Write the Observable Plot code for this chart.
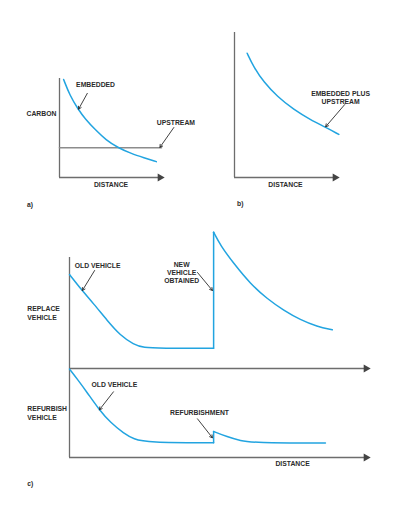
<!DOCTYPE html>
<html>
<head>
<meta charset="utf-8">
<script src="https://cdn.jsdelivr.net/npm/d3@7"></script>
<script src="https://cdn.jsdelivr.net/npm/@observablehq/plot@0.6"></script>
<style>
  html, body { margin: 0; padding: 0; background: #fff; }
  #page { position: relative; width: 395px; height: 517px; background: #fff; overflow: hidden; }
  #page svg { background: transparent !important; overflow: visible; }
</style>
</head>
<body>
<div id="page"></div>
<script>
// ---------- DATA ----------
// Panel a)
const aDistance = [0.4, 1, 1.8, 2.5, 3.5, 4.5, 5.7, 7, 8.2, 9.4];
const aEmbedded = [9.9, 8.3, 6.9, 5.9, 4.8, 3.8, 3.0, 2.4, 2.0, 1.6];
const aUpstreamLevel = 3.0;
const aUpstreamExtent = [0, 9.9];

// Panel b)
const bDistance = [1.23, 1.87, 2.85, 4.14, 5.76, 7.38, 8.83, 10.13];
const bEmbeddedPlusUpstream = [8.57, 7.61, 6.57, 5.59, 4.67, 3.98, 3.47, 2.97];

// Panel c) replace vehicle
const cReplaceOldDistance = [0, 0.42, 0.81, 1.26, 1.70, 2.15, 2.48, 3.03, 4.82];
const cReplaceOldCarbon   = [9.4, 7.8, 6.47, 4.8, 3.3, 2.4, 2.07, 2.03, 2.03];
const cReplaceNewDistance = [4.82, 5.05, 5.50, 6.05, 6.61, 7.17, 7.72, 8.28, 8.79];
const cReplaceNewCarbon   = [13.63, 12.3, 10.47, 8.47, 6.97, 5.8, 4.87, 4.2, 3.87];

// Panel c) refurbish vehicle
const cRefurbOldDistance = [0, 0.26, 0.59, 1.0, 1.37, 1.82, 2.15, 2.6, 4.82];
const cRefurbOldCarbon   = [8.84, 7.84, 6.5, 4.74, 3.5, 2.4, 1.84, 1.5, 1.47];
const cRefurbNewDistance = [4.82, 5.27, 5.72, 6.17, 8.56];
const cRefurbNewCarbon   = [2.6, 2.07, 1.67, 1.47, 1.44];

// ---------- STYLE ----------
const BLUE = "#22a4e0";
const AXIS = "#6d6d6d";
const GREY = "#8c8c8c";
const INK = "#2b2b2b";
const FONT = { fontFamily: "Liberation Sans, Arial, sans-serif", fontWeight: "bold", fill: INK };
const CURVE = "basis";

const zip = (xs, ys) => xs.map((x, i) => ({ x, y: ys[i] }));
const page = document.getElementById("page");
function place(el, left, top) {
  const d = document.createElement("div");
  d.style.position = "absolute";
  d.style.left = left + "px";
  d.style.top = top + "px";
  d.appendChild(el);
  page.appendChild(d);
}
const baseStyle = { background: "transparent", fontFamily: "Liberation Sans, Arial, sans-serif", fontSize: "6.8px", overflow: "visible" };
const arrowOpts = { x1: "x1", y1: "y1", x2: "x2", y2: "y2", stroke: INK, strokeWidth: 0.9, headLength: 5, bend: 0 };
const xArrowHead = (xEnd) => Plot.dot([{ x: xEnd, y: 0 }], { x: "x", y: "y", symbol: "triangle", rotate: 90, r: 3, fill: "#444", stroke: "none", dx: -2.5 });

function panelText(data) {
  return [
    Plot.text(data.filter(d => d.a === "middle"), { x: "x", y: "y", text: "t", textAnchor: "middle", lineHeight: 1.2, ...FONT }),
    Plot.text(data.filter(d => d.a === "start"), { x: "x", y: "y", text: "t", textAnchor: "start", lineHeight: 1.25, ...FONT })
  ];
}

// ---------- PANEL a ----------
const plotA = Plot.plot({
  width: 200, height: 160,
  marginLeft: 59, marginRight: 38, marginTop: 18, marginBottom: 43,
  x: { domain: [0, 10], axis: null },
  y: { domain: [0, 10], axis: null },
  style: baseStyle,
  marks: [
    Plot.ruleX([0], { stroke: AXIS, strokeWidth: 1.3 }),
    Plot.ruleY([0], { stroke: AXIS, strokeWidth: 1.3 }),
    xArrowHead(10),
    Plot.line(aUpstreamExtent.map(x => ({ x, y: aUpstreamLevel })), { x: "x", y: "y", stroke: GREY, strokeWidth: 1.6 }),
    Plot.line(zip(aDistance, aEmbedded), { x: "x", y: "y", stroke: BLUE, strokeWidth: 1.5, curve: CURVE }),
    Plot.arrow([{ x1: 2.7, y1: 8.5, x2: 1.85, y2: 6.9 }, { x1: 11.1, y1: 5.05, x2: 9.75, y2: 3.05 }], arrowOpts),
    ...panelText([
      { x: 3.5, y: 9.4, t: "EMBEDDED", a: "middle" },
      { x: 11.3, y: 5.6, t: "UPSTREAM", a: "middle" },
      { x: -1.75, y: 6.5, t: "CARBON", a: "middle" },
      { x: 5.0, y: -0.7, t: "DISTANCE", a: "middle" },
      { x: -3.15, y: -2.7, t: "a)", a: "start" }
    ])
  ]
});
place(plotA, 0, 60);

// ---------- PANEL b ----------
const plotB = Plot.plot({
  width: 195, height: 200,
  marginLeft: 34, marginRight: 58, marginTop: 12, marginBottom: 43,
  x: { domain: [0, 10], axis: null },
  y: { domain: [0, 10], axis: null },
  style: baseStyle,
  marks: [
    Plot.ruleX([0], { stroke: AXIS, strokeWidth: 1.3 }),
    Plot.ruleY([0], { stroke: AXIS, strokeWidth: 1.3 }),
    xArrowHead(10),
    Plot.line(zip(bDistance, bEmbeddedPlusUpstream), { x: "x", y: "y", stroke: BLUE, strokeWidth: 1.5, curve: CURVE }),
    Plot.arrow([{ x1: 10.7, y1: 5.03, x2: 8.85, y2: 3.5 }], arrowOpts),
    ...panelText([
      { x: 10.3, y: 5.52, t: "EMBEDDED PLUS\nUPSTREAM", a: "middle" },
      { x: 4.95, y: -0.48, t: "DISTANCE", a: "middle" },
      { x: 0.25, y: -1.8, t: "b)", a: "start" }
    ])
  ]
});
place(plotB, 200, 20);

// ---------- PANEL c (replace vehicle) ----------
const replaceOld = zip(cReplaceOldDistance, cReplaceOldCarbon);
const replaceNew = zip(cReplaceNewDistance, cReplaceNewCarbon);
const plotC1 = Plot.plot({
  width: 395, height: 148,
  marginLeft: 69, marginRight: 27, marginTop: 32, marginBottom: 5,
  x: { domain: [0, 10], axis: null },
  y: { domain: [0, 11.1], axis: null },
  style: baseStyle,
  marks: [
    Plot.ruleX([0], { stroke: AXIS, strokeWidth: 1.3 }),
    Plot.ruleY([0], { stroke: AXIS, strokeWidth: 1.3 }),
    xArrowHead(10),
    Plot.line(replaceOld, { x: "x", y: "y", stroke: BLUE, strokeWidth: 1.5, curve: CURVE }),
    Plot.line([replaceOld[replaceOld.length - 1], replaceNew[0]], { x: "x", y: "y", stroke: BLUE, strokeWidth: 1.5 }),
    Plot.line(replaceNew, { x: "x", y: "y", stroke: BLUE, strokeWidth: 1.5, curve: CURVE }),
    Plot.arrow([{ x1: 0.84, y1: 9.8, x2: 0.43, y2: 7.8 }, { x1: 4.28, y1: 9.6, x2: 4.78, y2: 7.8 }], arrowOpts),
    ...panelText([
      { x: 0.94, y: 10.3, t: "OLD VEHICLE", a: "middle" },
      { x: 3.75, y: 9.6, t: "NEW\nVEHICLE\nOBTAINED", a: "middle" },
      { x: -1.41, y: 5.55, t: "REPLACE\nVEHICLE", a: "start" }
    ])
  ]
});
place(plotC1, 0, 225);

// ---------- PANEL c (refurbish vehicle) ----------
const refurbOld = zip(cRefurbOldDistance, cRefurbOldCarbon);
const refurbNew = zip(cRefurbNewDistance, cRefurbNewCarbon);
const plotC2 = Plot.plot({
  width: 395, height: 135,
  marginLeft: 69, marginRight: 27, marginTop: 8, marginBottom: 38,
  x: { domain: [0, 10], axis: null },
  y: { domain: [0, 8.9], axis: null },
  style: baseStyle,
  marks: [
    Plot.ruleX([0], { stroke: AXIS, strokeWidth: 1.3 }),
    Plot.ruleY([0], { stroke: AXIS, strokeWidth: 1.3 }),
    xArrowHead(10),
    Plot.line(refurbOld, { x: "x", y: "y", stroke: BLUE, strokeWidth: 1.5, curve: CURVE }),
    Plot.line([refurbOld[refurbOld.length - 1], refurbNew[0]], { x: "x", y: "y", stroke: BLUE, strokeWidth: 1.5 }),
    Plot.line(refurbNew, { x: "x", y: "y", stroke: BLUE, strokeWidth: 1.5, curve: CURVE }),
    Plot.arrow([{ x1: 1.47, y1: 6.57, x2: 1.0, y2: 4.77 }, { x1: 4.28, y1: 3.87, x2: 4.78, y2: 1.97 }], arrowOpts),
    ...panelText([
      { x: 1.5, y: 7.27, t: "OLD VEHICLE", a: "middle" },
      { x: 4.35, y: 4.47, t: "REFURBISHMENT", a: "middle" },
      { x: -1.41, y: 4.47, t: "REFURBISH\nVEHICLE", a: "start" },
      { x: 7.46, y: -0.63, t: "DISTANCE", a: "middle" },
      { x: -1.41, y: -2.6, t: "c)", a: "start" }
    ])
  ]
});
place(plotC2, 0, 360);
</script>
</body>
</html>
